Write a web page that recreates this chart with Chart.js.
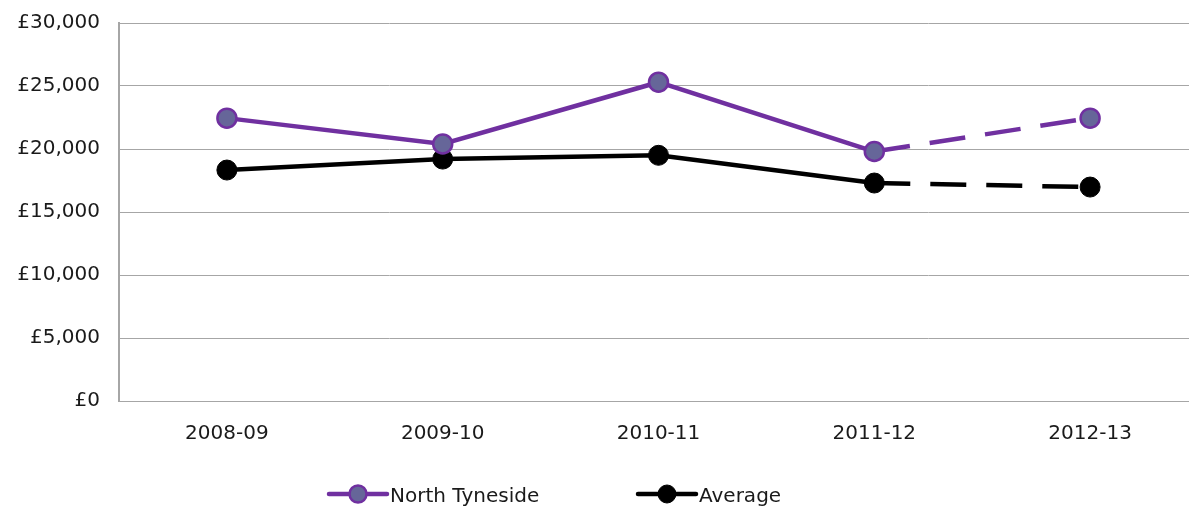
<!DOCTYPE html>
<html>
<head>
<meta charset="utf-8">
<script src="https://cdn.jsdelivr.net/npm/chart.js@4"></script>
<style>
  html, body { margin: 0; padding: 0; background: #fff; overflow: hidden; }
  #wrap { width: 1210px; height: 507px; }
</style>
</head>
<body>
<div id="wrap"><canvas id="grafico" width="1210" height="507"></canvas></div>
<script>
const anos = ["2008-09", "2009-10", "2010-11", "2011-12", "2012-13"];
const northTyneside = [22450, 20400, 25300, 19800, 22450];
const media = [18330, 19200, 19500, 17300, 16980];
const ticksY = [0, 5000, 10000, 15000, 20000, 25000, 30000];

const fonte = "DejaVu Sans, Verdana, sans-serif";

// traço a partir do 4º ponto (previsão)
const tracejado = ctx => ctx.p0DataIndex >= 3 ? [36, 20] : undefined;

// legenda desenhada à mão: linha + marcador + texto
const legendaManual = {
  id: "legendaManual",
  afterDraw(chart) {
    const c = chart.ctx;
    const posicoes = [329, 638];
    const y = 494;
    chart.data.datasets.forEach((ds, i) => {
      const x = posicoes[i];
      c.save();
      c.strokeStyle = ds.borderColor;
      c.lineWidth = 4.5;
      c.lineCap = "round";
      c.beginPath();
      c.moveTo(x, y);
      c.lineTo(x + 58, y);
      c.stroke();
      c.beginPath();
      c.arc(x + 29, y, ds.pointRadius - 1, 0, Math.PI * 2);
      c.fillStyle = ds.pointBackgroundColor;
      c.fill();
      c.lineWidth = ds.pointBorderWidth;
      c.strokeStyle = ds.pointBorderColor;
      c.stroke();
      c.fillStyle = "#1a1a1a";
      c.font = "20px " + fonte;
      c.textBaseline = "middle";
      c.textAlign = "left";
      c.fillText(ds.label, x + 61, y + 3);
      c.restore();
    });
  }
};

new Chart(document.getElementById("grafico"), {
  type: "line",
  data: {
    labels: anos,
    datasets: [
      {
        label: "North Tyneside",
        data: northTyneside,
        borderColor: "#7030a0",
        borderWidth: 4.5,
        pointRadius: 9.5,
        pointHoverRadius: 9.5,
        pointBackgroundColor: "#666699",
        pointBorderColor: "#7030a0",
        pointBorderWidth: 2.5,
        tension: 0,
        segment: { borderDash: tracejado }
      },
      {
        label: "Average",
        data: media,
        borderColor: "#000000",
        borderWidth: 4.5,
        pointRadius: 10,
        pointHoverRadius: 10,
        pointBackgroundColor: "#000000",
        pointBorderColor: "#000000",
        pointBorderWidth: 1,
        tension: 0,
        segment: { borderDash: tracejado }
      }
    ]
  },
  options: {
    responsive: false,
    animation: false,
    layout: { padding: { top: 23, right: 11, bottom: 0, left: 0 } },
    plugins: { legend: { display: false }, tooltip: { enabled: false } },
    scales: {
      x: {
        offset: true,
        grid: { display: false, drawTicks: false },
        border: { color: "#a6a6a6", width: 1 },
        ticks: { color: "#1a1a1a", font: { family: fonte, size: 20 }, padding: 21 },
        afterFit: s => { s.height = 106; s.paddingLeft = 0; s.paddingRight = 0; }
      },
      y: {
        min: 0,
        max: 30000,
        afterBuildTicks: s => { s.ticks = ticksY.map(v => ({ value: v })); },
        grid: { color: "#a6a6a6", lineWidth: 1, drawTicks: false },
        border: { color: "#a6a6a6", width: 2 },
        ticks: {
          color: "#1a1a1a",
          font: { family: fonte, size: 20 },
          padding: 19,
          callback: v => "£" + v.toLocaleString("en-GB")
        },
        afterFit: s => { s.width = 119; s.paddingTop = 0; s.paddingBottom = 0; }
      }
    }
  },
  plugins: [legendaManual]
});
</script>
</body>
</html>
